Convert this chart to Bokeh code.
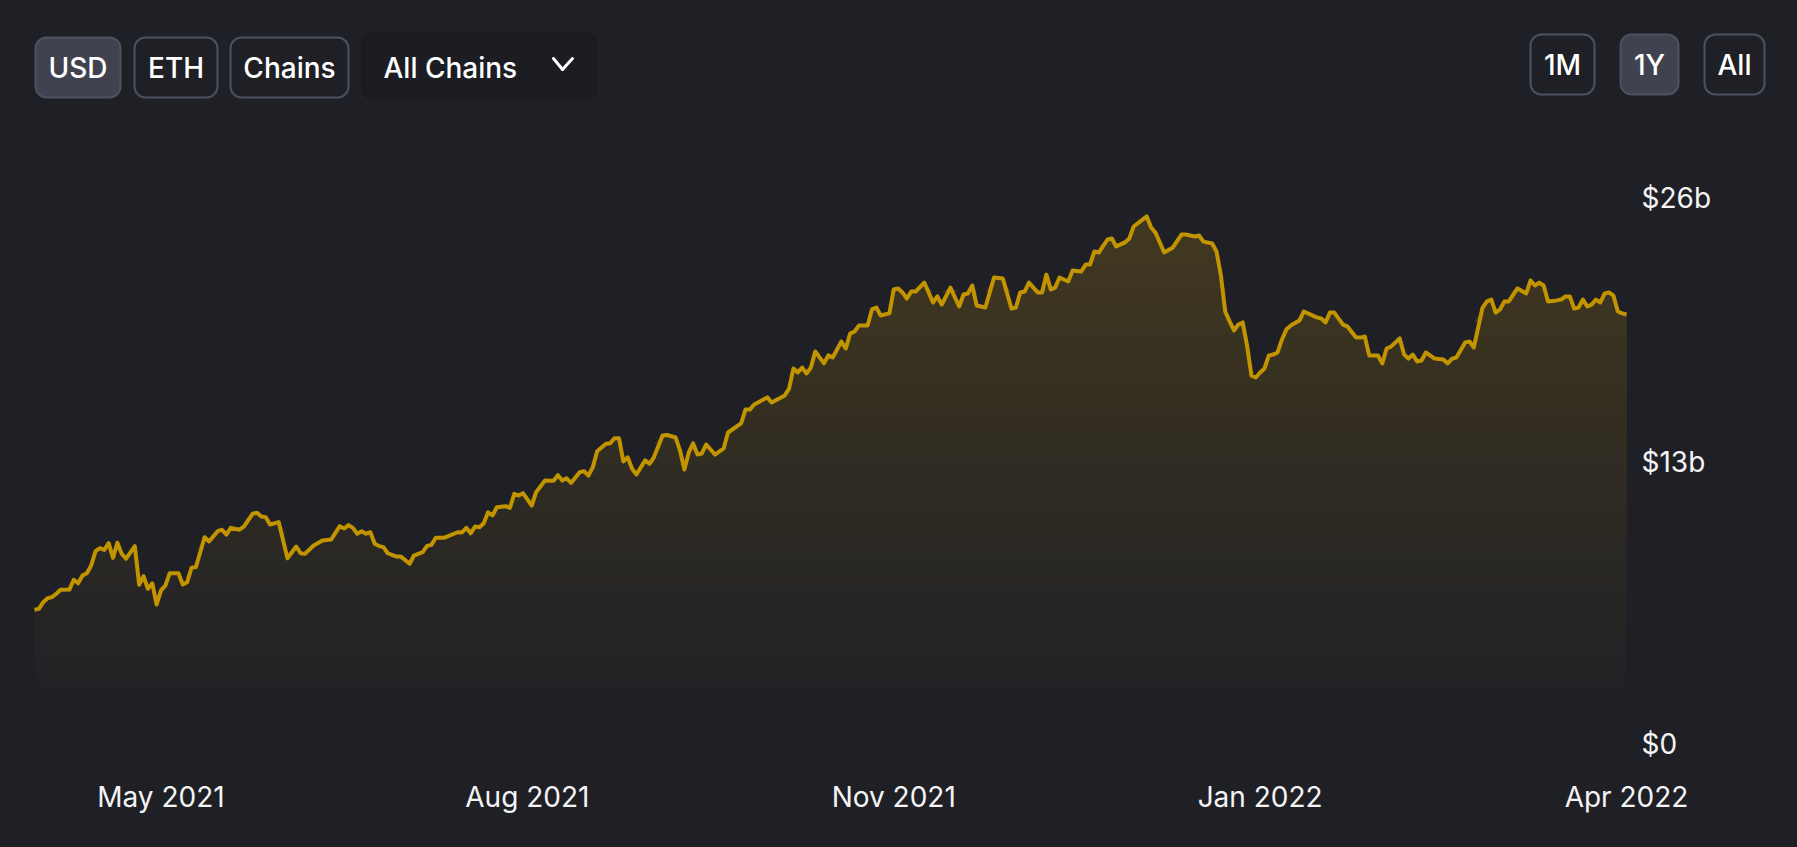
import numpy as np
from bokeh.embed import file_html
from bokeh.models import (Arrow, BoxAnnotation, FixedTicker, GlobalInlineStyleSheet, Label, LinearAxis, Range1d)
from bokeh.plotting import figure
from bokeh.resources import INLINE

# days since the start of the range, tvl in $b
day = [0, 1, 2, 3, 4, 5, 6, 8, 9, 10, 11, 12, 13, 14, 15, 16, 17, 18, 19, 20, 21, 23, 24, 25, 26, 27, 28, 29, 30, 31,
       33, 34, 35, 36, 37, 39, 40, 42, 43, 44, 45, 47, 48, 50, 51, 52, 53, 54, 56, 58, 60, 61, 62, 64, 66, 68, 70, 71, 72, 73,
       74, 75, 76, 77, 78, 79, 80, 81, 83, 84, 86, 87, 89, 90, 91, 92, 94, 97, 98, 99, 100, 101, 102, 103, 104, 105, 106, 108, 109, 110,
       111, 112, 114, 115, 116, 117, 119, 120, 121, 122, 123, 125, 126, 127, 128, 129, 131, 132, 133, 134, 135, 136, 137, 138, 140, 141, 142, 144, 145, 147,
       148, 149, 150, 151, 152, 153, 154, 156, 158, 159, 162, 163, 164, 165, 168, 169, 172, 173, 174, 175, 176, 177, 178, 179, 181, 182, 183, 185, 186, 187,
       188, 189, 191, 192, 193, 194, 196, 197, 198, 199, 200, 201, 202, 204, 206, 207, 208, 210, 212, 213, 214, 215, 216, 218, 220, 222, 224, 225, 226, 227,
       228, 230, 231, 232, 233, 234, 235, 237, 238, 240, 241, 242, 243, 244, 246, 247, 248, 250, 251, 252, 255, 256, 257, 259, 261, 263, 264, 266, 267, 268,
       270, 271, 272, 273, 274, 275, 276, 277, 278, 279, 280, 281, 282, 283, 284, 285, 286, 287, 288, 290, 291, 294, 295, 296, 297, 298, 300, 301, 303, 304,
       305, 306, 308, 309, 310, 311, 313, 314, 315, 316, 317, 318, 319, 321, 323, 324, 325, 326, 328, 329, 330, 332, 333, 334, 335, 336, 337, 338, 340, 342,
       343, 344, 345, 346, 347, 349, 350, 351, 352, 353, 354, 355, 356, 357, 358, 359, 360, 361, 362, 363, 364, 365]
tvl = [6.37, 6.41, 6.73, 6.92, 6.97, 7.13, 7.32, 7.33, 7.80, 7.63, 8.00, 8.11, 8.48, 9.16, 9.30, 9.22, 9.54, 8.84, 9.56, 9.03, 8.80, 9.40, 7.56, 7.97, 7.37, 7.63, 6.62, 7.29, 7.52, 8.11,
       8.11, 7.57, 7.68, 8.37, 8.40, 9.82, 9.62, 10.11, 10.18, 9.95, 10.27, 10.18, 10.33, 10.94, 10.99, 10.81, 10.78, 10.43, 10.54, 8.82, 9.38, 9.06, 9.03, 9.43, 9.67, 9.71, 10.35, 10.24, 10.40, 10.27,
       9.99, 10.11, 9.99, 10.06, 9.51, 9.40, 9.35, 9.06, 8.90, 8.90, 8.56, 8.95, 9.11, 9.41, 9.46, 9.80, 9.80, 10.06, 10.05, 10.27, 10.01, 10.33, 10.30, 10.49, 11.01, 10.86, 11.25, 11.30, 11.22, 11.89,
       11.81, 11.92, 11.33, 11.97, 12.24, 12.52, 12.51, 12.78, 12.52, 12.63, 12.41, 12.92, 12.97, 12.76, 13.16, 13.92, 14.27, 14.30, 14.54, 14.54, 13.43, 13.63, 13.08, 12.81, 13.48, 13.32, 13.63, 14.67, 14.69, 14.57,
       13.95, 13.05, 13.86, 14.29, 13.76, 13.81, 14.24, 13.76, 14.05, 14.81, 15.24, 15.90, 15.90, 16.14, 16.48, 16.24, 16.57, 16.90, 17.86, 17.67, 17.90, 17.62, 17.90, 18.67, 18.10, 18.48, 18.38, 19.14, 18.81, 19.52,
       19.62, 19.90, 19.90, 20.67, 20.76, 20.38, 20.48, 21.62, 21.67, 21.48, 21.19, 21.52, 21.52, 21.95, 21.00, 21.29, 20.90, 21.71, 20.81, 21.38, 21.43, 21.81, 20.86, 20.76, 22.19, 22.14, 20.71, 20.76, 21.48, 21.52,
       21.95, 21.48, 21.48, 22.33, 21.62, 21.71, 22.19, 22.00, 22.52, 22.48, 22.81, 22.81, 23.43, 23.38, 24.00, 24.05, 23.67, 23.86, 24.05, 24.62, 25.10, 24.57, 24.33, 23.38, 23.62, 24.24, 24.24, 24.14, 24.19, 23.90,
       23.81, 23.43, 22.29, 20.57, 20.10, 19.67, 19.95, 20.05, 18.95, 17.52, 17.43, 17.67, 17.86, 18.48, 18.52, 18.62, 19.24, 19.71, 19.90, 20.14, 20.57, 20.29, 20.24, 20.05, 20.52, 20.52, 19.95, 19.86, 19.33, 19.33,
       19.38, 18.48, 18.48, 18.10, 18.81, 18.90, 19.29, 18.52, 18.33, 18.52, 18.19, 18.24, 18.62, 18.33, 18.29, 18.10, 18.33, 18.38, 19.10, 19.14, 18.86, 20.76, 21.05, 21.14, 20.52, 20.67, 21.05, 21.05, 21.67, 21.43,
       22.05, 21.81, 21.95, 21.81, 21.05, 21.10, 21.14, 21.29, 21.29, 20.71, 20.76, 21.14, 20.81, 20.90, 21.14, 21.00, 21.43, 21.48, 21.33, 20.57, 20.48, 20.43]
x_ticks = [29, 113, 197, 281, 365]
x_labels = ["May 2021", "Aug 2021", "Nov 2021", "Jan 2022", "Apr 2022"]
y_ticks = [0, 13.4, 26]
y_labels = ["$0", "$13b", "$26b"]
area_floor = 2.0

BG = "#1f2026"
GOLD = "#c29400"
FONT = "Inter"
FONT_BTN = "Inter Medium"

# annotations and fixed axes get clipped to the frame, so the frame fills the whole page
p = figure(width=1797, height=847, output_backend="svg", toolbar_location=None,
           x_range=Range1d(-7.795, 404.2), y_range=Range1d(-4.952, 35.381),
           x_axis_location=None, y_axis_location=None,
           background_fill_color=BG, border_fill_color=BG, outline_line_color=None,
           min_border_left=0, min_border_right=0, min_border_top=0, min_border_bottom=0)
p.stylesheets = [GlobalInlineStyleSheet(css="html,body{background:%s;overflow:hidden}" % BG)]
p.grid.visible = False

xaxis = LinearAxis(fixed_location=0, ticker=FixedTicker(ticks=x_ticks),
                   major_label_overrides=dict(zip(x_ticks, x_labels)))
yaxis = LinearAxis(fixed_location=365, ticker=FixedTicker(ticks=y_ticks),
                   major_label_overrides=dict(zip(y_ticks, y_labels)))
p.add_layout(xaxis, "below")
p.add_layout(yaxis, "right")
for ax in (xaxis, yaxis):
    ax.axis_line_color = None
    ax.major_tick_line_color = None
    ax.minor_tick_line_color = None
    ax.major_label_text_color = "#f4f4f5"
    ax.major_label_text_font = FONT
    ax.major_label_text_font_size = "28px"
xaxis.major_label_standoff = 30
yaxis.major_label_standoff = 9

# bokeh has no gradient fill, so stack solid layers going up
tvl_arr = np.array(tvl)
low, high = np.array([33, 33, 37]), np.array([65, 56, 32])
levels = np.linspace(area_floor, max(tvl), 33)
for i, level in enumerate(levels[:-1]):
    c = low + (high - low) * i / 31
    color = "#%02x%02x%02x" % tuple(int(round(v)) for v in c)
    p.varea(x=day, y1=level, y2=np.maximum(tvl_arr, level), fill_color=color)

p.line(day, tvl, line_color=GOLD, line_width=4, line_join="round")

# controls, in canvas pixels
buttons = [("USD", 35, 120, 37, 97, True), ("ETH", 134, 217, 37, 97, False), ("Chains", 230, 348, 37, 97, False),
           ("1M", 1530, 1594, 34, 94, False), ("1Y", 1620, 1678, 34, 94, True), ("All", 1704, 1764, 34, 94, False)]
for text, left, right, top, bottom, active in buttons:
    p.add_layout(BoxAnnotation(left=left, right=right, top=top, bottom=bottom,
                               left_units="canvas", right_units="canvas", top_units="canvas", bottom_units="canvas",
                               fill_color="#40434f" if active else BG, fill_alpha=1,
                               line_color="#4d505e", line_alpha=1, line_width=2, border_radius=11))
    p.add_layout(Label(x=(left + right) / 2, y=(top + bottom) / 2, x_units="canvas", y_units="canvas", text=text,
                       text_align="center", text_baseline="middle", text_color="white",
                       text_font=FONT_BTN, text_font_size="28px"))

p.add_layout(BoxAnnotation(left=362, right=596, top=33, bottom=99,
                           left_units="canvas", right_units="canvas", top_units="canvas", bottom_units="canvas",
                           fill_color="#1c1d22", fill_alpha=1, line_color="#1a1b1f", line_alpha=1, line_width=2,
                           border_radius=11))
p.add_layout(Label(x=383, y=67, x_units="canvas", y_units="canvas", text="All Chains",
                   text_align="left", text_baseline="middle", text_color="white",
                   text_font=FONT_BTN, text_font_size="28px"))
for x0, y0, x1, y1 in [(553, 58, 562, 69), (562, 69, 572, 58)]:
    p.add_layout(Arrow(end=None, x_start=x0, y_start=y0, x_end=x1, y_end=y1,
                       start_units="canvas", end_units="canvas", line_color="white", line_width=3,
                       line_cap="round"))

open("out.html", "w").write(file_html(p, INLINE))
